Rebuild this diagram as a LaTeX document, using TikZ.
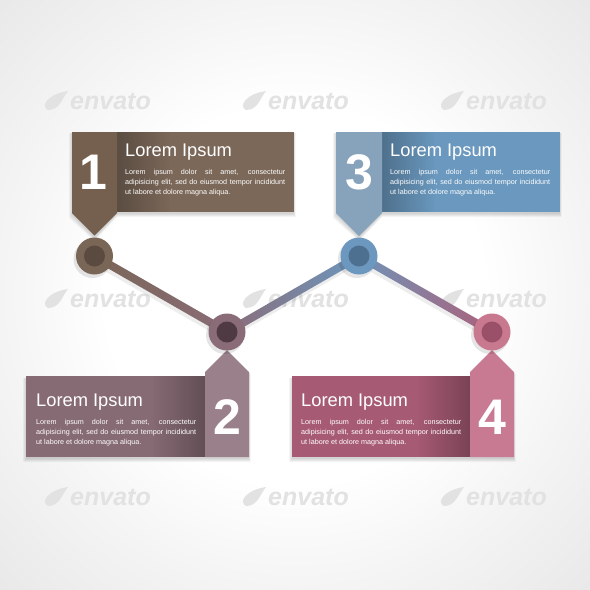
\documentclass[tikz,border=0pt]{standalone}
\usepackage{fontspec}
\setmainfont{Liberation Sans}
\usetikzlibrary{calc,fadings}
\definecolor{brownT}{HTML}{75604F}
\definecolor{brownB}{HTML}{7B6859}
\definecolor{brownR}{HTML}{7A6657}
\definecolor{brownI}{HTML}{5B4A3F}
\definecolor{blueT}{HTML}{87A3BB}
\definecolor{blueB}{HTML}{6A98BE}
\definecolor{blueR}{HTML}{6C98BF}
\definecolor{blueI}{HTML}{4D7090}
\definecolor{mauveT}{HTML}{9A808A}
\definecolor{mauveB}{HTML}{866A74}
\definecolor{mauveR}{HTML}{8A6C78}
\definecolor{mauveI}{HTML}{4F3A44}
\definecolor{pinkT}{HTML}{C87A92}
\definecolor{pinkB}{HTML}{A65A74}
\definecolor{pinkR}{HTML}{C8788F}
\definecolor{pinkI}{HTML}{9A5068}
\definecolor{wm}{HTML}{E2E2E2}
\definecolor{bgmid}{HTML}{F4F4F4}
\definecolor{bgedge}{HTML}{E8E8E8}
\tikzfading[name=fadeL, left color=transparent!0, right color=transparent!100]
\tikzfading[name=fadeR, left color=transparent!100, right color=transparent!0]
\pgfdeclareradialshading{bgshade}{\pgfpoint{0bp}{0bp}}{color(0bp)=(white); color(16bp)=(white); color(25bp)=(bgmid); color(36bp)=(bgedge); color(50bp)=(bgedge)}
\newcommand\lorembody{\hyphenpenalty=10000 \tolerance=10000 Lorem ipsum dolor sit amet, consectetur\linebreak adipisicing elit, sed do eiusmod tempor incididunt\linebreak ut labore et dolore magna aliqua.}
\begin{document}
\begin{tikzpicture}[x=1pt,y=-1pt,
  title/.style={anchor=base west, inner sep=0, text=white, font=\fontsize{18.3}{18}\selectfont},
  bodytext/.style={anchor=north west, inner sep=0, text=white, text width=160pt, align=justify,
    font=\fontsize{7.2}{10}\selectfont},
  num/.style={inner sep=0, text=white, font=\bfseries\fontsize{50}{50}\selectfont},
  ring/.style={circle, inner sep=0, minimum size=37pt},
  hub/.style={circle, inner sep=0, minimum size=21pt},
  softshadow/.style={fill=black, opacity=0.045},
  tabshade/.style={fill=black, opacity=0.26},
  wmark/.style={text=wm, anchor=base west, inner sep=0, font=\bfseries\itshape\fontsize{25}{25}\selectfont}
]
% background
\useasboundingbox (0,0) rectangle (590,590);
\shade[shading=bgshade] (0,0) rectangle (590,590);
% watermarks
\foreach \dx in {0,198,396} \foreach \dy in {0,198,396} {
  \begin{scope}[shift={(\dx,\dy)}]
    \fill[wm] (48,110) .. controls (40,106) and (48,94) .. (68,91) .. controls (62,98) and (60,110) .. cycle;
    \node[wmark] (wm-\dx-\dy) at (70,109) {envato};
  \end{scope}
}
% card shadows
\foreach \d in {0,1,2,3} {
  \fill[softshadow] (72-\d,133) -- (294+\d*0.5,133) -- (294+\d*0.5,214+\d) -- (117,214+\d) -- (94.5,238+\d) -- (72-\d,215+\d) -- cycle;
  \fill[softshadow] (336-\d,133) -- (560+\d*0.5,133) -- (560+\d*0.5,214+\d) -- (382,214+\d) -- (359,238+\d) -- (336-\d,215+\d) -- cycle;
  \fill[softshadow] (26-\d,378) -- (205,378) -- (205,374) -- (227,352) -- (249+\d*0.5,374) -- (249+\d*0.5,459+\d) -- (26-\d,459+\d) -- cycle;
  \fill[softshadow] (292-\d,378) -- (470,378) -- (470,374) -- (492,352) -- (514+\d*0.5,374) -- (514+\d*0.5,459+\d) -- (292-\d,459+\d) -- cycle;
}
% card 1
\fill[brownB] (117,132) rectangle (294,212);
\fill[tabshade, path fading=fadeL] (117,132) rectangle (170,212);
\fill[brownT] (72,132) -- (117,132) -- (117,213) -- (94.5,235.5) -- (72,213) -- cycle;
\node[num] (n1) at (93,172) {1};
\node[title] (t1) at (125,156) {Lorem Ipsum};
\node[bodytext] (b1) at (125,169) {\lorembody};
% card 3
\fill[blueB] (382,132) rectangle (560,212);
\fill[tabshade, path fading=fadeL] (382,132) rectangle (435,212);
\fill[blueT] (336,132) -- (382,132) -- (382,213) -- (359,236) -- (336,213) -- cycle;
\node[num] (n3) at (359,172) {3};
\node[title] (t3) at (390,156) {Lorem Ipsum};
\node[bodytext] (b3) at (390,169) {\lorembody};
% card 2
\fill[mauveB] (26,376) rectangle (205,457);
\fill[tabshade, path fading=fadeR] (152,376) rectangle (205,457);
\fill[mauveT] (205,457) -- (249,457) -- (249,372) -- (227,350) -- (205,372) -- cycle;
\node[num] (n2) at (227,417) {2};
\node[title] (t2) at (36,406) {Lorem Ipsum};
\node[bodytext] (b2) at (36,419) {\lorembody};
% card 4
\fill[pinkB] (292,376) rectangle (470,457);
\fill[tabshade, path fading=fadeR] (417,376) rectangle (470,457);
\fill[pinkT] (470,457) -- (514,457) -- (514,372) -- (492,350) -- (470,372) -- cycle;
\node[num] (n4) at (492,417) {4};
\node[title] (t4) at (301,406) {Lorem Ipsum};
\node[bodytext] (b4) at (301,419) {\lorembody};
% hubs positions
\coordinate (c1) at (94.5,256);
\coordinate (c2) at (227,332);
\coordinate (c3) at (359,256);
\coordinate (c4) at (492,332);
% connector shadows
\foreach \a/\b in {c1/c2,c2/c3,c3/c4}
  \draw[black, opacity=0.07, line width=8pt] ($(\a)+(-1,4)$) -- ($(\b)+(-1,4)$);
% connectors
\shade[left color=brownR, right color=mauveR]
  ($(c1)!4pt!90:(c2)$) -- ($(c1)!4pt!-90:(c2)$) -- ($(c2)!4pt!90:(c1)$) -- ($(c2)!4pt!-90:(c1)$) -- cycle;
\shade[left color=mauveR, right color=blueR]
  ($(c2)!4pt!90:(c3)$) -- ($(c2)!4pt!-90:(c3)$) -- ($(c3)!4pt!90:(c2)$) -- ($(c3)!4pt!-90:(c2)$) -- cycle;
\shade[left color=blueR!90!mauveR, right color=pinkB!80!pinkR]
  ($(c3)!4pt!90:(c4)$) -- ($(c3)!4pt!-90:(c4)$) -- ($(c4)!4pt!90:(c3)$) -- ($(c4)!4pt!-90:(c3)$) -- cycle;
% hub shadows
\foreach \c in {c1,c2,c3,c4}
  \fill[black, opacity=0.1] ($(\c)+(-2,3)$) circle[radius=19pt];
% hubs
\node[ring, fill=brownR] (r1) at (c1) {};
\node[hub, fill=brownI] (h1) at (c1) {};
\node[ring, fill=mauveR] (r2) at (c2) {};
\node[hub, fill=mauveI] (h2) at (c2) {};
\node[ring, fill=blueR] (r3) at (c3) {};
\node[hub, fill=blueI] (h3) at (c3) {};
\node[ring, fill=pinkR] (r4) at (c4) {};
\node[hub, fill=pinkI] (h4) at (c4) {};
\end{tikzpicture}
\end{document}
